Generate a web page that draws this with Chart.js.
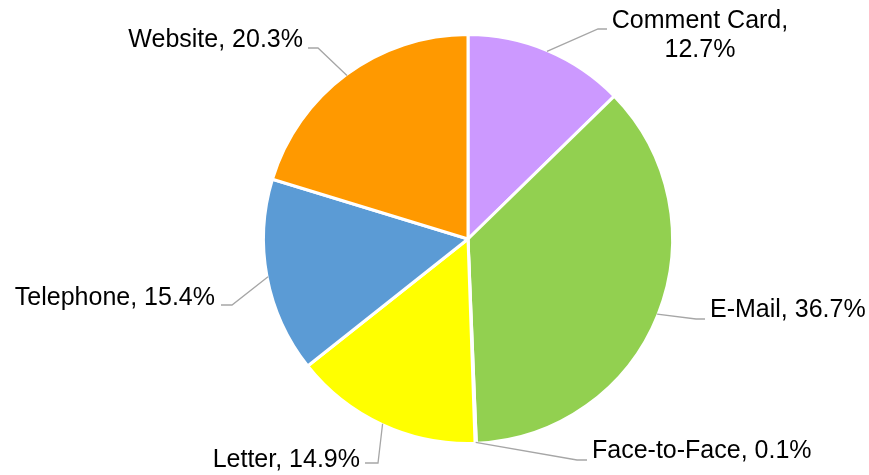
<!DOCTYPE html>
<html>
<head>
<meta charset="utf-8">
<script src="https://cdn.jsdelivr.net/npm/chart.js@4.4.1/dist/chart.umd.min.js"></script>
<style>
  html, body { margin: 0; padding: 0; background: #ffffff; }
  #wrap { width: 869px; height: 475px; position: relative; }
</style>
</head>
<body>
<div id="wrap"><canvas id="chart-contact"></canvas></div>
<script>
const channelLabels = ['Comment Card', 'E-Mail', 'Face-to-Face', 'Letter', 'Telephone', 'Website'];
const channelShares = [12.7, 36.7, 0.1, 14.9, 15.4, 20.3];
const channelColors = ['#CC99FF', '#92D050', '#F2F2F2', '#FFFF00', '#5B9BD5', '#FF9900'];

// where each label's leader line bends and where its text sits
const labelLayout = [
  { elbow: [598, 29], end: [607, 29], text: [700, 28], align: 'center', wrap: true },
  { elbow: [696, 319], end: [705, 319], text: [710, 317], align: 'left' },
  { elbow: [577, 460], end: [587, 460], text: [592, 458], align: 'left' },
  { elbow: [378, 463], end: [365, 463], text: [360, 467], align: 'right' },
  { elbow: [232, 305], end: [221, 305], text: [215, 305], align: 'right' },
  { elbow: [318, 48], end: [308, 48], text: [303, 47], align: 'right' },
];

const leaderLabels = {
  id: 'leaderLabels',
  afterDraw(chart) {
    const { ctx } = chart;
    const arcs = chart.getDatasetMeta(0).data;
    ctx.save();
    ctx.font = '25px "Liberation Sans", Arial, sans-serif';
    ctx.fillStyle = '#000000';
    ctx.textBaseline = 'alphabetic';
    arcs.forEach((arc, i) => {
      const layout = labelLayout[i];
      const mid = (arc.startAngle + arc.endAngle) / 2;
      const r = arc.outerRadius - 1;
      const ax = arc.x + Math.cos(mid) * r;
      const ay = arc.y + Math.sin(mid) * r;
      ctx.strokeStyle = '#A6A6A6';
      ctx.lineWidth = 1.3;
      ctx.beginPath();
      ctx.moveTo(ax, ay);
      ctx.lineTo(layout.elbow[0], layout.elbow[1]);
      ctx.lineTo(layout.end[0], layout.end[1]);
      ctx.stroke();

      const pct = `${channelShares[i].toFixed(1)}%`;
      ctx.textAlign = layout.align;
      if (layout.wrap) {
        ctx.fillText(`${channelLabels[i]},`, layout.text[0], layout.text[1]);
        ctx.fillText(pct, layout.text[0], layout.text[1] + 29);
      } else {
        ctx.fillText(`${channelLabels[i]}, ${pct}`, layout.text[0], layout.text[1]);
      }
    });
    ctx.restore();
  },
};

new Chart(document.getElementById('chart-contact').getContext('2d'), {
  type: 'pie',
  data: {
    labels: channelLabels,
    datasets: [{
      data: channelShares,
      backgroundColor: channelColors,
      borderColor: '#ffffff',
      borderWidth: 3,
    }],
  },
  options: {
    responsive: true,
    maintainAspectRatio: false,
    animation: false,
    layout: { padding: { left: 262, right: 195, top: 33, bottom: 30 } },
    plugins: {
      legend: { display: false },
      tooltip: { enabled: false },
    },
  },
  plugins: [leaderLabels],
});
</script>
</body>
</html>
